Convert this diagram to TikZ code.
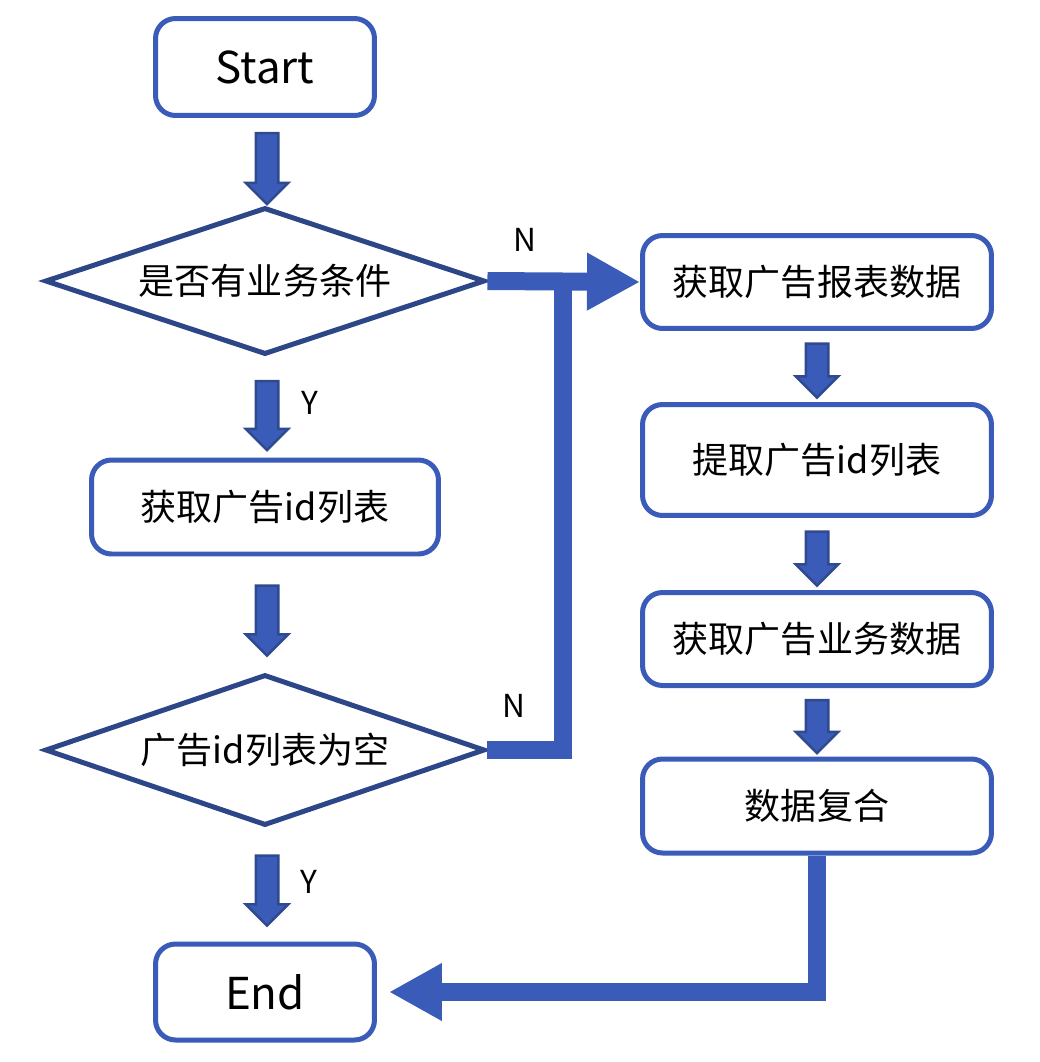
\documentclass[tikz,border=0pt]{standalone}
\usepackage{fontspec}
\setmainfont{Noto Sans CJK SC}
\usetikzlibrary{shapes.geometric,shapes.arrows,arrows.meta}
\definecolor{boxblue}{HTML}{3A5CB8}
\definecolor{diablue}{HTML}{2C4687}
\definecolor{arrline}{HTML}{2F4A8E}
\begin{document}
\begin{tikzpicture}[x=0.02cm,y=-0.02cm,
  box/.style={draw=boxblue,line width=0.1cm,rounded corners=0.4cm,fill=white,font=\fontsize{20.5}{24}\selectfont},
  term/.style={box,minimum width=4.38cm,font=\fontsize{25}{30}\selectfont},
  dec/.style={draw=diablue,line width=0.1cm,diamond,aspect=3,inner sep=0pt,minimum width=8.8cm,fill=white,font=\fontsize{20.5}{24}\selectfont},
  blk/.style={single arrow,draw=arrline,fill=boxblue,line width=0.05cm,rotate=-90,inner xsep=0pt,inner ysep=0.2cm,single arrow head extend=0.2cm},
  conn/.style={boxblue,line width=0.36cm},
  tip/.style={-{Triangle[length=1.06cm,width=1.08cm]}},
  lab/.style={font=\fontsize{18}{22}\selectfont}]
\useasboundingbox (0,0) rectangle (1040,1062);
\node[term,minimum height=1.94cm] (start) at (265,67) {Start};
\node[dec,minimum height=2.94cm] (d1) at (265,281) {是否有业务条件};
\node[box,minimum width=6.94cm,minimum height=1.88cm] (ids) at (265,507) {获取广告id列表};
\node[dec,minimum height=3.02cm] (d2) at (265,750) {广告id列表为空};
\node[term,minimum height=1.92cm] (end) at (265,992) {End};
\node[box,minimum width=6.98cm,minimum height=1.86cm] (r1) at (817,282) {获取广告报表数据};
\node[box,minimum width=6.98cm,minimum height=2.22cm] (r2) at (817,460) {提取广告id列表};
\node[box,minimum width=6.98cm,minimum height=1.86cm] (r3) at (817,639) {获取广告业务数据};
\node[box,minimum width=6.98cm,minimum height=1.88cm] (r4) at (817,806) {数据复合};
\node[blk,minimum height=1.42cm] (a1) at (267,163) {};
\node[blk,minimum height=1.38cm] (a2) at (267,410) {};
\node[blk,minimum height=1.40cm] (a3) at (267,615) {};
\node[blk,minimum height=1.40cm] (a4) at (267,885) {};
\node[blk,minimum height=1.08cm] (a5) at (817,365) {};
\node[blk,minimum height=1.08cm] (a6) at (817,553) {};
\node[blk,minimum height=1.06cm] (a7) at (817,721) {};
\node[lab] (n1) at (525,240) {N};
\node[lab] (y1) at (310,403) {Y};
\node[lab] (n2) at (514,706) {N};
\node[lab] (y2) at (309,882) {Y};
\coordinate (j) at (563,281);
\draw[conn] (d2.east) -| (j);
\draw[conn,tip] (d1.east) -- (r1.west);
\draw[conn,tip,shorten >=0.24cm] (r4.south) |- (end.east);
\end{tikzpicture}
\end{document}
